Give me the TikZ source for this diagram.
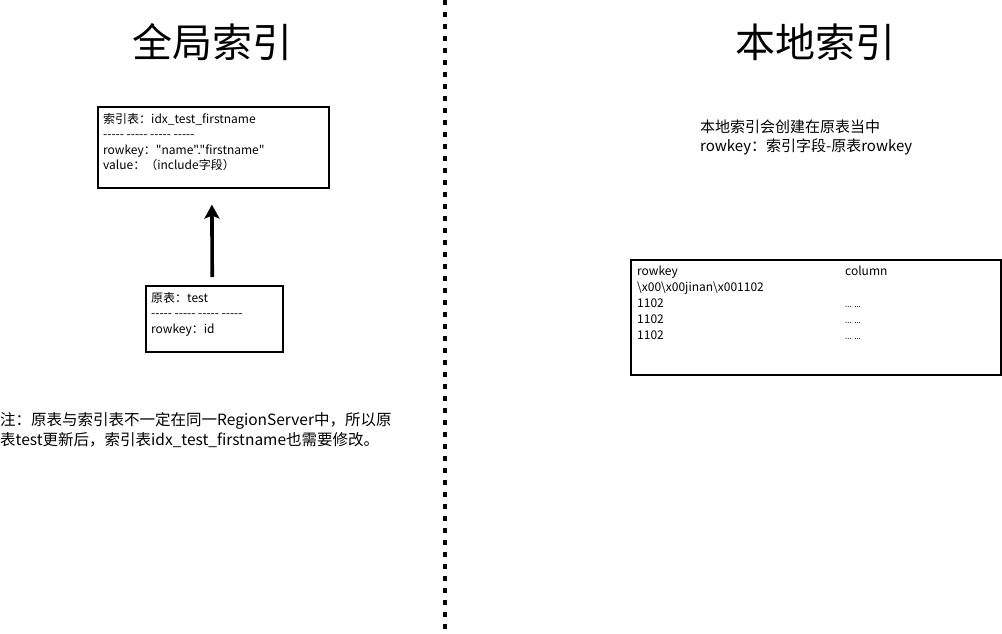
\documentclass[tikz,border=0pt]{standalone}
\usepackage{fontspec}
\newfontfamily\cjk{Noto Sans CJK SC}
\usetikzlibrary{arrows.meta,positioning}

\begin{document}
\begin{tikzpicture}[x=1pt,y=-1pt,every node/.style={font=\cjk,inner sep=0pt},
    heading/.style={font=\cjk\fontsize{40}{44}\selectfont},
    framebox/.style={draw,line width=1.6pt,anchor=north west},
    boxtext/.style={anchor=north west,align=left,font=\cjk\fontsize{12}{15.5}\selectfont},
    notetext/.style={anchor=north west,align=left,font=\cjk\fontsize{15.5}{20}\selectfont}]
      \useasboundingbox (0,0) rectangle (1002,634);
      % divider
      \draw[line width=4pt,dash pattern=on 5pt off 7pt] (445,0) -- (445,634);
      % left: global index
      \node[heading] (gtitle) at (212,42) {全局索引};
      \node[framebox,minimum width=231pt,minimum height=81pt] (idx) at (97,106) {};
      \node[boxtext] (idxtext) at (103,113) {索引表：idx\_test\_firstname\\----- ----- ----- -----\\rowkey：\symbol{34}name\symbol{34}.\symbol{34}firstname\symbol{34}\\value：（include字段）};
      \node[framebox,minimum width=137pt,minimum height=66pt] (src) at (145,285) {};
      \node[boxtext] (srctext) at (151,292) {原表：test\\----- ----- ----- -----\\rowkey：id};
      \draw[-{Stealth[length=14pt,width=15pt,inset=3pt]},line width=3.6pt,shorten <=8pt,shorten >=16pt] ([xshift=-2pt]src.north) -- ([xshift=-1.5pt]idx.south);
      \node[notetext] (note) at (0,412) {注：原表与索引表不一定在同一RegionServer中，所以原\\表test更新后，索引表idx\_test\_firstname也需要修改。};
      % right: local index
      \node[heading] (ltitle) at (815,42) {本地索引};
      \node[notetext,font=\cjk\fontsize{15}{19}\selectfont] (localnote) at (700,120) {本地索引会创建在原表当中\\rowkey：索引字段-原表rowkey};
      \node[framebox,minimum width=370pt,minimum height=115pt] (localtbl) at (630,259) {};
      \node[boxtext,font=\cjk\fontsize{12}{16}\selectfont] (localtext) at (637,264) {%
        \begin{tabular}{@{}p{208pt}@{}l@{}}
        rowkey & column\\
        \textbackslash x00\textbackslash x00jinan\textbackslash x001102 & \\
        1102 & {\fontsize{8}{16}\selectfont ... ...}\\
        1102 & {\fontsize{8}{16}\selectfont ... ...}\\
        1102 & {\fontsize{8}{16}\selectfont ... ...}
        \end{tabular}};
\end{tikzpicture}
\end{document}
